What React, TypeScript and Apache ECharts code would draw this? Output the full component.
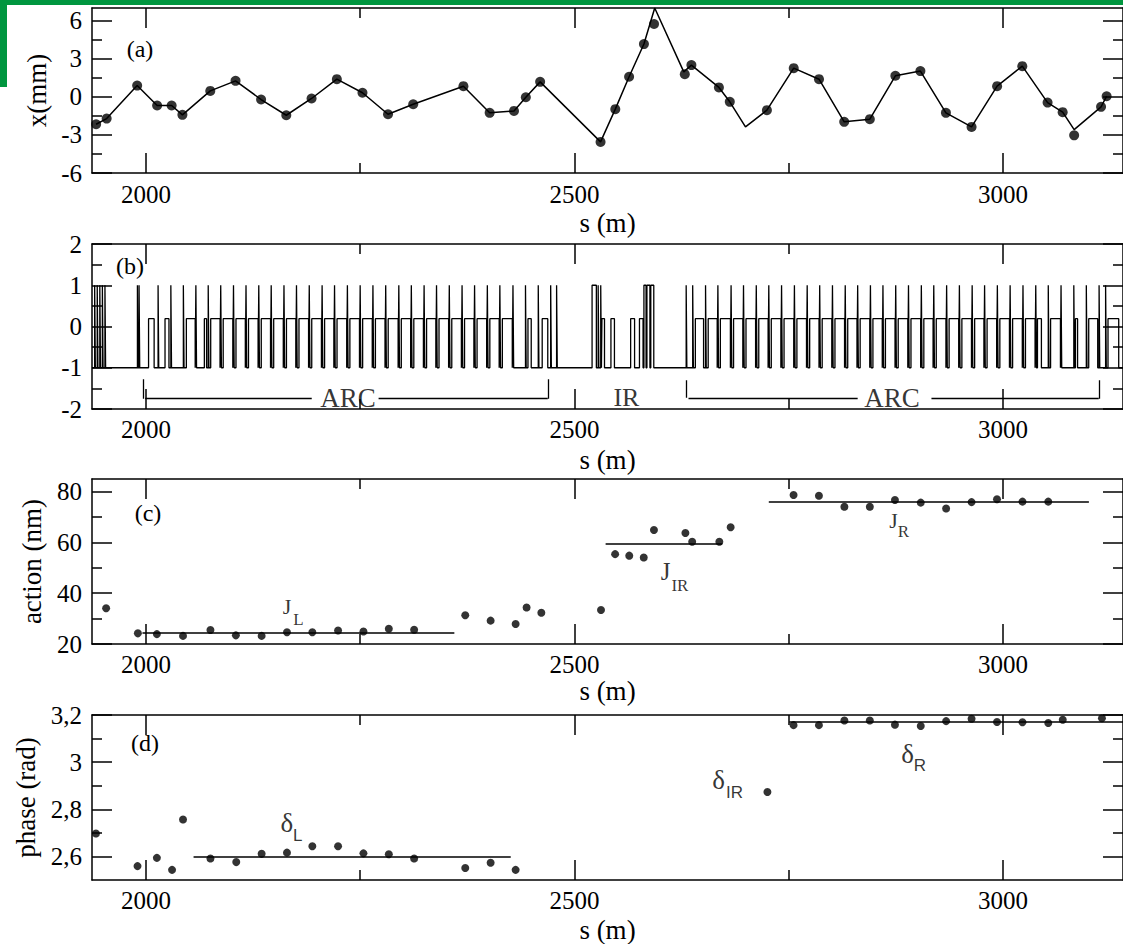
import React, { useEffect, useRef } from "react";
import * as echarts from "echarts";

const SERIF = "Liberation Serif";
const SANS = "Liberation Sans";

// ---------- shared s axis ----------
const S_MIN = 1937;
const S_MAX = 3140;
const sMajorTicks = [2000, 2500, 3000];
const sMinorTicks = [2250, 2750];

// ---------- panel (a): orbit x(mm) ----------
const orbitYMajor = [-6, -3, 0, 3, 6];
const orbitYMinor = [-4.5, -1.5, 1.5, 4.5];
const orbitMeasured: [number, number][] = [
  [1941.8, -2.16], [1954.1, -1.71], [1989.7, 0.89], [2013.0, -0.68], [2029.9, -0.68],
  [2042.5, -1.42], [2075.0, 0.47], [2104.5, 1.26], [2134.3, -0.21], [2163.7, -1.45],
  [2193.2, -0.13], [2222.7, 1.39], [2252.6, 0.32], [2282.4, -1.37], [2311.8, -0.58],
  [2370.4, 0.84], [2401.0, -1.26], [2429.4, -1.11], [2443.2, -0.03], [2459.9, 1.18],
  [2530.4, -3.55], [2547.6, -0.97], [2563.7, 1.58], [2581.0, 4.16], [2592.8, 5.74],
  [2628.7, 1.79], [2636.4, 2.5], [2668.5, 0.74], [2681.2, -0.39], [2724.5, -1.05],
  [2755.8, 2.26], [2785.3, 1.39], [2814.7, -1.97], [2844.6, -1.76], [2874.4, 1.66],
  [2903.6, 2.03], [2933.4, -1.26], [2963.3, -2.37], [2993.1, 0.84], [3022.5, 2.42],
  [3052.0, -0.45], [3069.6, -1.21], [3083.0, -3.03], [3114.4, -0.79], [3120.9, 0.05],
];
const orbitModel: [number, number][] = [
  [1941.8, -2.16], [1954.1, -1.71], [1989.7, 0.89], [2013.0, -0.68], [2029.9, -0.68],
  [2042.5, -1.42], [2075.0, 0.47], [2104.5, 1.26], [2134.3, -0.21], [2163.7, -1.45],
  [2193.2, -0.13], [2222.7, 1.39], [2252.6, 0.32], [2282.4, -1.37], [2311.8, -0.58],
  [2370.4, 0.84], [2401.0, -1.26], [2429.4, -1.11], [2443.2, -0.03], [2459.9, 1.18],
  [2530.4, -3.55], [2547.6, -0.97], [2563.7, 1.58], [2581.0, 4.16], [2593.6, 7.0],
  [2627.5, 1.97], [2636.4, 2.5], [2668.5, 0.74], [2681.2, -0.39], [2699.5, -2.37],
  [2724.5, -1.05], [2755.8, 2.26], [2785.3, 1.39], [2814.7, -1.97], [2844.6, -1.76],
  [2874.4, 1.66], [2903.6, 2.03], [2933.4, -1.26], [2963.3, -2.37], [2993.1, 0.84],
  [3022.5, 2.42], [3052.0, -0.45], [3069.6, -1.21], [3083.0, -2.58], [3114.4, -0.79],
  [3120.9, 0.05],
];

// ---------- panel (b): lattice ----------
const latticeYMajor = [-2, -1, 0, 1, 2];
const latticeYMinor = [-1.5, -0.5, 0.5, 1.5];
const LATTICE_BASE = -1;
const QUAD_LEVEL = 1;
const DIPOLE_LEVEL = 0.19;
const QUAD_LEN = 0.8;
const quadCenters = [
  1940.5, 1943.5, 1946.5, 1949.5, 1952.5,
  1990.4, 1992.3, 2014.5, 2029.4, 2044.0, 2058.6, 2073.0, 2087.6, 2102.5, 2117.1,
  2132.0, 2146.5, 2161.4, 2176.0, 2190.9, 2205.9, 2220.4, 2235.4, 2250.3, 2265.2,
  2280.1, 2295.4, 2310.0, 2324.9, 2339.4, 2354.3, 2369.2, 2383.8, 2398.7, 2413.3,
  2428.6, 2443.2, 2458.1, 2472.6, 2479.5,
  2528.0, 2531.0,
  2630.7, 2638.3, 2653.3, 2667.7, 2683.1, 2697.6, 2712.5, 2727.1, 2742.0, 2757.0,
  2771.9, 2786.5, 2801.4, 2816.3, 2830.8, 2845.7, 2860.3, 2875.2, 2890.1, 2905.1,
  2919.6, 2934.6, 2949.5, 2964.4, 2978.9, 2993.8, 3008.7, 3023.7, 3038.6, 3053.2,
  3068.1, 3083.0, 3097.6, 3112.5, 3120.1,
];
const wideQuads: [number, number][] = [
  [2520.5, 2525.5], [2581.0, 2583.5], [2584.5, 2588.0], [2589.0, 2592.5],
];
const dipoles: [number, number][] = [
  [2003.0, 2009.5], [2022.2, 2026.8], [2047.1, 2057.4], [2068.1, 2070.7],
  [2075.5, 2086.4], [2090.1, 2101.3], [2105.0, 2115.9], [2119.6, 2130.8], [2134.5, 2145.3],
  [2149.0, 2160.2], [2163.9, 2174.8], [2178.5, 2189.7], [2193.4, 2204.7], [2208.4, 2219.2],
  [2222.9, 2234.2], [2237.9, 2249.1], [2252.8, 2264.0], [2267.7, 2278.9], [2282.6, 2294.2],
  [2297.9, 2308.8], [2312.5, 2323.7], [2327.4, 2338.2], [2341.9, 2353.1], [2356.8, 2368.0],
  [2371.7, 2382.6], [2386.3, 2397.5], [2401.2, 2412.1], [2415.8, 2427.4], [2445.7, 2449.5],
  [2462.3, 2468.8],
  [2532.0, 2535.0], [2542.5, 2546.6], [2565.5, 2570.1], [2575.8, 2580.0],
  [2641.0, 2650.6], [2656.0, 2666.5], [2670.2, 2681.9], [2685.6, 2696.4], [2700.1, 2711.3],
  [2715.0, 2725.9], [2729.6, 2740.8], [2744.5, 2755.8], [2759.5, 2770.7], [2774.4, 2785.3],
  [2789.0, 2800.2], [2803.9, 2815.1], [2818.8, 2829.6], [2833.3, 2844.5], [2848.2, 2859.1],
  [2862.8, 2874.0], [2877.7, 2888.9], [2892.6, 2903.9], [2907.6, 2918.4], [2922.1, 2933.4],
  [2937.1, 2948.3], [2952.0, 2963.2], [2966.9, 2977.7], [2981.4, 2992.6], [2996.3, 3007.5],
  [3011.2, 3022.5], [3026.2, 3037.4], [3040.2, 3044.8], [3055.5, 3067.0], [3084.5, 3087.0],
  [3100.0, 3110.5], [3122.5, 3135.0],
];
const sectionBrackets: [number, number][][] = [
  [[1997.2, -1.28], [1997.2, -1.75]],
  [[1999.0, -1.75], [2193.4, -1.75]],
  [[2271.4, -1.75], [2468.8, -1.75]],
  [[2468.8, -1.28], [2468.8, -1.75]],
  [[2630.7, -1.3], [2630.7, -1.73]],
  [[2633.0, -1.75], [2830.4, -1.75]],
  [[2916.5, -1.75], [3111.7, -1.75]],
  [[3112.5, -1.3], [3112.5, -1.75]],
];
const sectionLabels: [number, number, string][] = [
  [2235.7, -1.73, "ARC"],
  [2560.6, -1.73, "IR"],
  [2870.6, -1.73, "ARC"],
];

// ---------- panel (c): action ----------
const actionYMajor = [20, 40, 60, 80];
const actionYMinor = [30, 50, 70];
const actionPoints: [number, number][] = [
  [1953.5, 34.1], [1990.5, 24.2], [2012.7, 23.9], [2043.2, 23.2], [2075.2, 25.5],
  [2104.9, 23.4], [2134.9, 23.2], [2164.5, 24.6], [2194.1, 24.6], [2224.1, 25.3],
  [2253.7, 24.9], [2283.3, 26.0], [2312.9, 25.6], [2372.5, 31.3], [2402.1, 29.2],
  [2431.3, 27.9], [2444.1, 34.4], [2461.3, 32.3],
  [2530.9, 33.4], [2547.4, 55.4], [2563.9, 54.8], [2580.8, 54.1], [2592.7, 64.9],
  [2629.4, 63.7], [2637.3, 60.3], [2669.0, 60.3], [2682.2, 66.0],
  [2755.6, 78.7], [2785.2, 78.4], [2814.9, 74.1], [2844.6, 74.1], [2873.9, 76.7],
  [2904.0, 75.7], [2933.6, 73.4], [2963.3, 75.9], [2993.0, 77.0], [3022.7, 76.1],
  [3052.8, 76.1],
];
const actionFits: [number, number, number][] = [
  [1995.9, 2359.8, 24.5],
  [2536.3, 2672.3, 59.4],
  [2726.7, 3100.2, 75.9],
];
const actionNotes: [number, number, string, number, string][] = [
  [2164.5, 34.7, "J", 22, SERIF], [2178.0, 29.7, "L", 17, SERIF],
  [2606.3, 48.5, "J", 25, SERIF], [2623.0, 43.2, "IR", 17, SERIF],
  [2872.2, 68.8, "J", 22, SERIF], [2883.8, 64.2, "R", 17, SERIF],
];

// ---------- panel (d): phase ----------
const phaseYMajor = [2.6, 2.8, 3.0, 3.2];
const phaseYMinor = [2.7, 2.9, 3.1];
const phasePoints: [number, number][] = [
  [1941.6, 2.697], [1990.1, 2.559], [2012.7, 2.594], [2030.4, 2.543], [2043.2, 2.757],
  [2075.2, 2.591], [2105.3, 2.576], [2134.9, 2.611], [2164.5, 2.616], [2194.1, 2.643],
  [2224.1, 2.643], [2253.7, 2.613], [2283.3, 2.609], [2312.9, 2.591], [2372.5, 2.551],
  [2402.1, 2.573], [2431.3, 2.543],
  [2725.1, 2.873],
  [2755.6, 3.157], [2785.2, 3.157], [2814.9, 3.177], [2844.6, 3.177], [2873.9, 3.159],
  [2904.0, 3.153], [2933.6, 3.174], [2963.3, 3.184], [2993.0, 3.170], [3022.7, 3.169],
  [3052.8, 3.166], [3069.7, 3.180], [3115.4, 3.186],
];
const phaseFits: [number, number, number][] = [
  [2055.5, 2425.6, 2.597],
  [2750.6, 3140.0, 3.171],
];
const phaseNotes: [number, number, string, number, string][] = [
  [2164.5, 2.74, "δ", 27, SERIF], [2177.0, 2.69, "L", 17, SANS],
  [2668.2, 2.926, "δ", 27, SERIF], [2686.7, 2.871, "IR", 17, SANS],
  [2888.7, 3.033, "δ", 27, SERIF], [2903.1, 2.986, "R", 17, SANS],
];

// ---------- layout ----------
const GRID_LEFT = 92;
const GRID_WIDTH = 1048;
const GRID_HEIGHT = 165;
const PANELS = [
  { top: 8, yMin: -6, yMax: 7, yMajor: orbitYMajor, yMinor: orbitYMinor, yName: "x(mm)", yNameGap: 41, xNameGap: 36, xLabelMargin: 9, tag: "(a)", tagX: 140, tagY: 49, comma: false },
  { top: 244, yMin: -2, yMax: 2, yMajor: latticeYMajor, yMinor: latticeYMinor, yName: "", yNameGap: 40, xNameGap: 37, xLabelMargin: 8, tag: "(b)", tagX: 130, tagY: 266, comma: false },
  { top: 479, yMin: 20, yMax: 85, yMajor: actionYMajor, yMinor: actionYMinor, yName: "action (nm)", yNameGap: 47, xNameGap: 31, xLabelMargin: 8, tag: "(c)", tagX: 148, tagY: 513, comma: false },
  { top: 715, yMin: 2.5, yMax: 3.2, yMajor: phaseYMajor, yMinor: phaseYMinor, yName: "phase (rad)", yNameGap: 51, xNameGap: 36, xLabelMargin: 8, tag: "(d)", tagX: 145, tagY: 743, comma: true },
];

function buildLattice(): [number, number][] {
  const els: [number, number, number][] = [
    ...quadCenters.map((c) => [c - QUAD_LEN / 2, c + QUAD_LEN / 2, QUAD_LEVEL] as [number, number, number]),
    ...wideQuads.map(([a, b]) => [a, b, QUAD_LEVEL] as [number, number, number]),
    ...dipoles.map(([a, b]) => [a, b, DIPOLE_LEVEL] as [number, number, number]),
  ].sort((p, q) => p[0] - q[0]);
  const pts: [number, number][] = [[S_MIN, LATTICE_BASE]];
  for (const [a, b, h] of els) {
    pts.push([a, LATTICE_BASE], [a, h], [b, h], [b, LATTICE_BASE]);
  }
  pts.push([S_MAX, LATTICE_BASE]);
  return pts;
}

function noteSeries(g: number, notes: [number, number, string, number, string][]) {
  return {
    type: "scatter",
    xAxisIndex: g * 4,
    yAxisIndex: g * 4,
    symbolSize: 1,
    itemStyle: { color: "rgba(0,0,0,0)" },
    silent: true,
    clip: false,
    data: notes.map(([s, v, t, size, font]) => ({
      value: [s, v],
      label: { show: true, position: "inside", formatter: t, fontSize: size, fontFamily: font, color: "#000" },
    })),
  };
}

function fitSeries(g: number, fits: [number, number, number][]) {
  return {
    type: "lines",
    coordinateSystem: "cartesian2d",
    xAxisIndex: g * 4,
    yAxisIndex: g * 4,
    silent: true,
    lineStyle: { color: "#000", width: 1.5, opacity: 1, curveness: 0 },
    data: fits.map(([a, b, v]) => ({ coords: [[a, v], [b, v]] })),
  };
}

function buildOption() {
  const grid: any[] = [];
  const xAxis: any[] = [];
  const yAxis: any[] = [];
  const black = { color: "#000", width: 1.5 };
  const tick = (vals: number[], len: number) => ({ show: true, inside: true, length: len, customValues: vals, lineStyle: black });
  const noLine = { show: false, onZero: false };
  PANELS.forEach((p, g) => {
    grid.push({ left: GRID_LEFT, top: p.top, width: GRID_WIDTH, height: GRID_HEIGHT, containLabel: false });
    const xb = { type: "value", gridIndex: g, min: S_MIN, max: S_MAX, splitLine: { show: false }, axisLine: { show: true, onZero: false, lineStyle: black } };
    xAxis.push({
      ...xb, position: "bottom", axisTick: tick(sMajorTicks, 20),
      axisLabel: { show: true, customValues: sMajorTicks, margin: p.xLabelMargin, formatter: (v: number) => String(v), color: "#000", fontFamily: SERIF, fontSize: 25 },
      name: "s (m)", nameLocation: "middle", nameGap: p.xNameGap,
      nameTextStyle: { color: "#000", fontFamily: SERIF, fontSize: 27 },
    });
    xAxis.push({ ...xb, position: "bottom", axisLine: noLine, axisTick: tick(sMinorTicks, 10), axisLabel: { show: false } });
    xAxis.push({ ...xb, position: "top", axisTick: tick(sMajorTicks, 20), axisLabel: { show: false } });
    xAxis.push({ ...xb, position: "top", axisLine: noLine, axisTick: tick(sMinorTicks, 10), axisLabel: { show: false } });

    const yb = { type: "value", gridIndex: g, min: p.yMin, max: p.yMax, splitLine: { show: false }, axisLine: { show: true, onZero: false, lineStyle: black } };
    yAxis.push({
      ...yb, position: "left", axisTick: tick(p.yMajor, 20),
      axisLabel: {
        show: true, customValues: p.yMajor, margin: 10, color: "#000", fontFamily: SERIF, fontSize: 25,
        formatter: (v: number) => (p.comma ? String(v).replace(".", ",") : String(v)),
      },
      name: p.yName, nameLocation: "middle", nameGap: p.yNameGap, nameRotate: 90,
      nameTextStyle: { color: "#000", fontFamily: SERIF, fontSize: 27 },
    });
    yAxis.push({ ...yb, position: "left", axisLine: noLine, axisTick: tick(p.yMinor, 10), axisLabel: { show: false } });
    yAxis.push({ ...yb, position: "right", axisTick: tick(p.yMajor, 20), axisLabel: { show: false } });
    yAxis.push({ ...yb, position: "right", axisLine: noLine, axisTick: tick(p.yMinor, 10), axisLabel: { show: false } });
  });

  const series: any[] = [
    // (a)
    {
      type: "line", xAxisIndex: 0, yAxisIndex: 0, data: orbitModel, showSymbol: false, symbol: "none",
      lineStyle: { color: "#000", width: 1.5 }, silent: true, clip: true,
    },
    {
      type: "scatter", xAxisIndex: 0, yAxisIndex: 0, data: orbitMeasured, symbol: "circle", symbolSize: 10,
      itemStyle: { color: "#000" }, silent: true, clip: true,
    },
    // (b)
    {
      type: "line", xAxisIndex: 4, yAxisIndex: 4, data: buildLattice(), showSymbol: false, symbol: "none",
      lineStyle: { color: "#000", width: 1.3 }, silent: true, clip: true,
    },
    {
      type: "lines", coordinateSystem: "cartesian2d", xAxisIndex: 4, yAxisIndex: 4, silent: true,
      lineStyle: { color: "#000", width: 1.3, opacity: 1, curveness: 0 },
      data: sectionBrackets.map((c) => ({ coords: c })),
    },
    noteSeries(1, sectionLabels.map(([s, v, t]) => [s, v, t, t === "IR" ? 26 : 27, SERIF] as [number, number, string, number, string])),
    // (c)
    fitSeries(2, actionFits),
    {
      type: "scatter", xAxisIndex: 8, yAxisIndex: 8, data: actionPoints, symbol: "circle", symbolSize: 8,
      itemStyle: { color: "#000" }, silent: true,
    },
    noteSeries(2, actionNotes),
    // (d)
    fitSeries(3, phaseFits),
    {
      type: "scatter", xAxisIndex: 12, yAxisIndex: 12, data: phasePoints, symbol: "circle", symbolSize: 8,
      itemStyle: { color: "#000" }, silent: true,
    },
    noteSeries(3, phaseNotes),
  ];

  const graphic: any[] = [
    { type: "rect", shape: { x: 0, y: 0, width: 1123, height: 5 }, style: { fill: "#00963f" }, silent: true },
    { type: "rect", shape: { x: 0, y: 0, width: 7, height: 87 }, style: { fill: "#00963f" }, silent: true },
    ...PANELS.map((p) => ({
      type: "text", x: p.tagX, y: p.tagY, silent: true,
      style: { text: p.tag, fill: "#000", fontFamily: SERIF, fontSize: 24, align: "center", verticalAlign: "middle" },
    })),
  ];

  return { animation: false, backgroundColor: "#fff", textStyle: { fontFamily: SERIF }, grid, xAxis, yAxis, series, graphic };
}

export default function App() {
  const ref = useRef<HTMLDivElement>(null);
  useEffect(() => {
    if (!ref.current) return;
    const chart = echarts.init(ref.current, null, { renderer: "svg" });
    chart.setOption(buildOption() as any);
    return () => chart.dispose();
  }, []);
  return (
    <div
      ref={ref}
      style={{ position: "absolute", left: 0, top: 0, width: 1123, height: 944, background: "#fff", overflow: "hidden" }}
    />
  );
}
